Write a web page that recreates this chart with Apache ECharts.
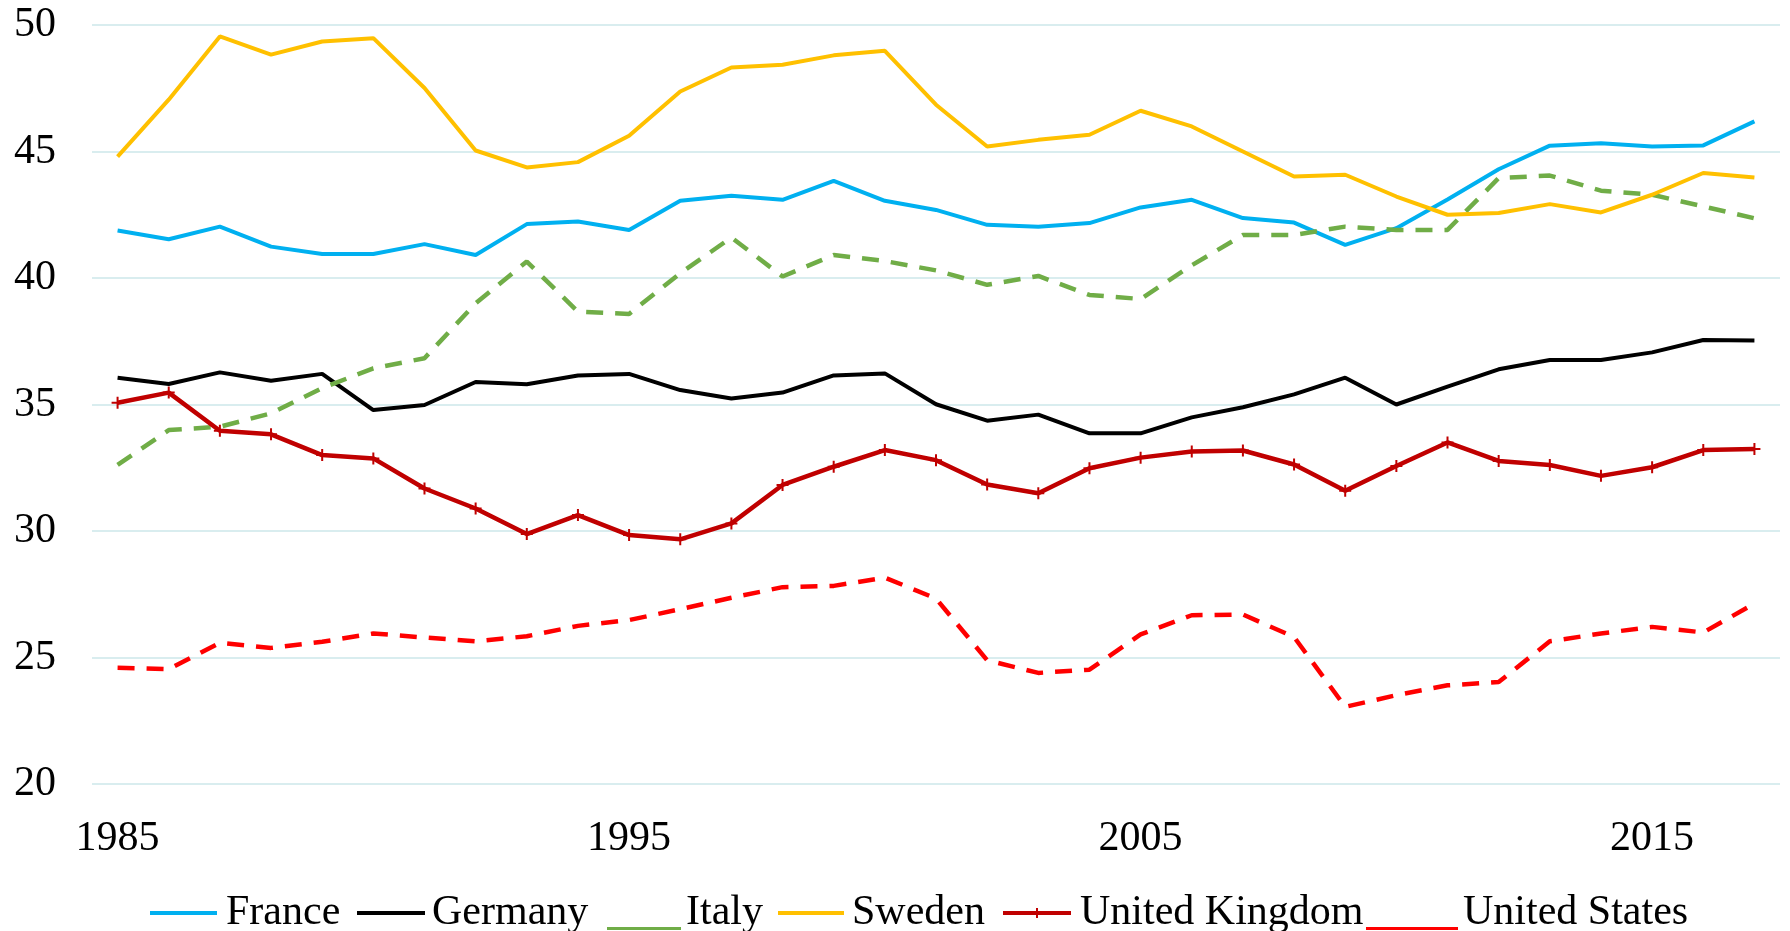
<!DOCTYPE html>
<html>
<head>
<meta charset="utf-8">
<script src="https://cdn.jsdelivr.net/npm/echarts@6/dist/echarts.min.js"></script>
<style>
html, body { margin: 0; padding: 0; background: #fff; }
#container { width: 1790px; height: 931px; }
</style>
</head>
<body>
<div id="container"></div>
<script>
var years = ['1985','1986','1987','1988','1989','1990','1991','1992','1993','1994','1995','1996','1997','1998','1999','2000','2001',
             '2002','2003','2004','2005','2006','2007','2008','2009','2010','2011','2012','2013','2014','2015','2016','2017'];

var france = [41.88, 41.53, 42.03, 41.24, 40.95, 40.95, 41.34, 40.91, 42.13, 42.23, 41.90, 43.05, 43.25, 43.09, 43.84, 43.05, 42.69,
              42.10, 42.03, 42.17, 42.79, 43.09, 42.37, 42.19, 41.31, 41.97, 43.10, 44.30, 45.23, 45.33, 45.20, 45.24, 46.19];
var germany = [36.06, 35.81, 36.27, 35.94, 36.21, 34.78, 34.98, 35.89, 35.80, 36.15, 36.21, 35.57, 35.24, 35.47, 36.15, 36.23, 35.01,
               34.36, 34.60, 33.86, 33.86, 34.49, 34.89, 35.40, 36.06, 35.00, 35.71, 36.39, 36.76, 36.76, 37.06, 37.55, 37.53];
var italy = [32.61, 33.99, 34.12, 34.65, 35.65, 36.43, 36.83, 39.00, 40.65, 38.67, 38.58, 40.19, 41.60, 40.06, 40.91, 40.67, 40.30,
             39.73, 40.08, 39.33, 39.17, 40.50, 41.70, 41.70, 42.03, 41.90, 41.90, 43.95, 44.05, 43.45, 43.29, 42.83, 42.36];
var sweden = [44.80, 47.05, 49.55, 48.83, 49.35, 49.48, 47.51, 45.04, 44.37, 44.58, 45.62, 47.37, 48.32, 48.43, 48.80, 48.98, 46.85,
              45.20, 45.46, 45.66, 46.61, 45.99, 45.00, 44.01, 44.08, 43.22, 42.50, 42.57, 42.92, 42.59, 43.29, 44.15, 43.97];
var uk = [35.07, 35.47, 33.96, 33.82, 33.00, 32.87, 31.68, 30.89, 29.88, 30.63, 29.84, 29.67, 30.30, 31.82, 32.54, 33.20, 32.80,
          31.84, 31.49, 32.48, 32.90, 33.14, 33.18, 32.63, 31.59, 32.57, 33.50, 32.77, 32.61, 32.18, 32.52, 33.20, 33.24];
var us = [24.59, 24.54, 25.58, 25.38, 25.62, 25.95, 25.79, 25.64, 25.84, 26.25, 26.48, 26.91, 27.36, 27.78, 27.83, 28.16, 27.33,
          24.89, 24.39, 24.52, 25.91, 26.67, 26.70, 25.81, 23.05, 23.51, 23.90, 24.03, 25.64, 25.95, 26.21, 25.99, 27.13];

var countries = ['France', 'Germany', 'Italy', 'Sweden', 'United Kingdom', 'United States'];
var colors = ['#00B0F0', '#000000', '#70AD47', '#FFC000', '#C00000', '#FF0000'];

var font = 'Liberation Serif, Times New Roman, serif';
var plus = 'path://M5,0 L7,0 L7,5 L12,5 L12,7 L7,7 L7,12 L5,12 L5,7 L0,7 L0,5 L5,5 Z';

// legend icons: the two corner moves pin the box so the visible part keeps its place
function midLine(w, len) {
    return 'path://M0,0 M' + w + ',36 M0,16 L' + len + ',16 L' + len + ',20 L0,20 Z';
}
function underLine(w) {
    return 'path://M0,0 M' + w + ',36 M0,32 L' + w + ',32 L' + w + ',35 L0,35 Z';
}
function plusLine(w, len) {
    return 'path://M0,0 M' + w + ',36 M0,16 L' + len + ',16 L' + len + ',20 L0,20 Z ' +
        'M33,13 L35,13 L35,23 L33,23 Z M29,17 L39,17 L39,19 L29,19 Z';
}

var legendLeft = [150, 357, 607, 778, 1003, 1366];
var legendWidth = [71, 70, 74, 69, 72, 92];
var legendIcon = [midLine(71, 67), midLine(70, 68), underLine(74), midLine(69, 66), plusLine(72, 68), underLine(92)];

var dom = document.getElementById('container');
var myChart = echarts.init(dom);
var option = null;

option = {
    animation: false,
    textStyle: { fontFamily: font },
    grid: {
        left: 92,
        right: 10,
        top: 25,
        bottom: 147
    },
    legend: countries.map(function (name, i) {
        return {
            left: legendLeft[i],
            top: 892,
            padding: 0,
            itemWidth: legendWidth[i],
            itemHeight: 36,
            textStyle: { fontFamily: font, fontSize: 42, color: '#000' },
            data: [{
                name: name,
                icon: legendIcon[i],
                itemStyle: { color: colors[i], borderWidth: 0 }
            }]
        };
    }),
    xAxis: {
        type: 'category',
        data: years,
        boundaryGap: true,
        axisLine: { show: false },
        axisTick: { show: false },
        axisLabel: {
            interval: 9,
            margin: 34,
            fontFamily: font,
            fontSize: 42,
            color: '#000'
        }
    },
    yAxis: {
        type: 'value',
        min: 20,
        max: 50,
        interval: 5,
        axisLine: { show: false },
        axisTick: { show: false },
        axisLabel: {
            margin: 36,
            padding: [4, 0, 0, 0],
            fontFamily: font,
            fontSize: 42,
            color: '#000'
        },
        splitLine: {
            lineStyle: { color: '#D9EDEF', width: 2 }
        }
    },
    series: [
        {
            name: 'France',
            type: 'line',
            data: france,
            symbol: 'none',
            itemStyle: { color: colors[0] },
            lineStyle: { color: colors[0], width: 4 }
        },
        {
            name: 'Germany',
            type: 'line',
            data: germany,
            symbol: 'none',
            itemStyle: { color: colors[1] },
            lineStyle: { color: colors[1], width: 4 }
        },
        {
            name: 'Italy',
            type: 'line',
            data: italy,
            symbol: 'none',
            itemStyle: { color: colors[2] },
            lineStyle: { color: colors[2], width: 4.5, type: [17, 12] }
        },
        {
            name: 'Sweden',
            type: 'line',
            data: sweden,
            symbol: 'none',
            itemStyle: { color: colors[3] },
            lineStyle: { color: colors[3], width: 4 }
        },
        {
            name: 'United Kingdom',
            type: 'line',
            data: uk,
            symbol: plus,
            symbolSize: 12,
            showAllSymbol: true,
            itemStyle: { color: colors[4], borderWidth: 0 },
            lineStyle: { color: colors[4], width: 4.5 }
        },
        {
            name: 'United States',
            type: 'line',
            data: us,
            symbol: 'none',
            itemStyle: { color: colors[5] },
            lineStyle: { color: colors[5], width: 4.5, type: [17, 12] }
        }
    ]
};

if (option && typeof option === 'object') {
    myChart.setOption(option, true);
}
</script>
</body>
</html>
